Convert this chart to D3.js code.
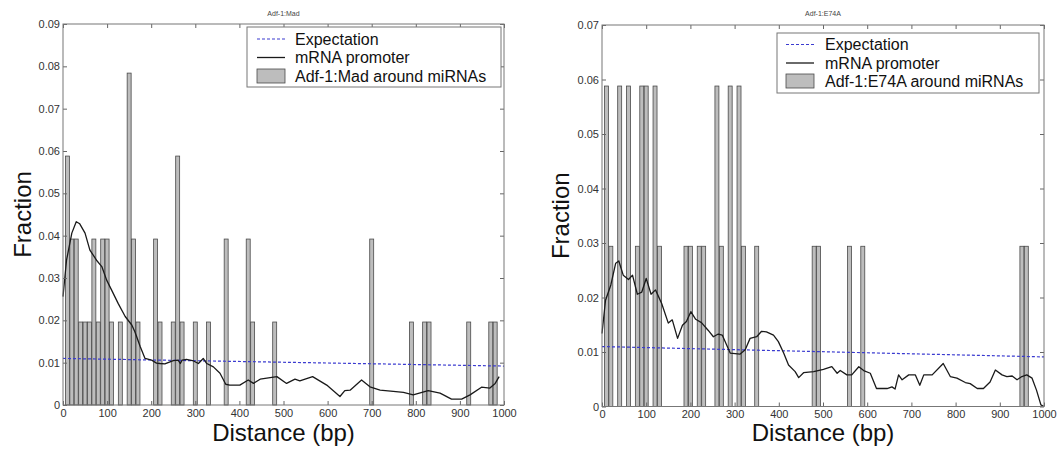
<!DOCTYPE html>
<html>
<head>
<meta charset="utf-8">
<script src="https://cdn.jsdelivr.net/npm/d3@7"></script>
<style>
  body { margin: 0; background: #fff; }
  svg { display: block; font-family: Arial, "Liberation Sans", sans-serif; }
  .tick text { fill: #333; font-size: 11px; }
  .tick line { stroke: #666; }
</style>
</head>
<body>
<svg width="1059" height="452"></svg>
<script>
// ---- data ----
var xTicks = [0, 100, 200, 300, 400, 500, 600, 700, 800, 900, 1000];
var madYTicks = [0, 0.01, 0.02, 0.03, 0.04, 0.05, 0.06, 0.07, 0.08, 0.09];
var e74aYTicks = [0, 0.01, 0.02, 0.03, 0.04, 0.05, 0.06, 0.07];

var seriesNames = ["Expectation", "mRNA promoter"];

// histogram of Adf-1:Mad sites around miRNAs (bin centre, fraction)
var madBins = [10, 20, 30, 40, 50, 60, 70, 80, 90, 100, 110, 130, 150, 160, 170, 210, 220,
               250, 260, 270, 300, 330, 370, 420, 430, 480, 700, 790, 820, 830, 920, 970, 980];
var madFrac = [0.0588, 0.0392, 0.0392, 0.0196, 0.0196, 0.0196, 0.0392, 0.0196, 0.0392, 0.0392,
               0.0196, 0.0196, 0.0784, 0.0392, 0.0196, 0.0392, 0.0196, 0.0196, 0.0588, 0.0196,
               0.0196, 0.0196, 0.0392, 0.0392, 0.0196, 0.0196, 0.0392, 0.0196, 0.0196, 0.0196,
               0.0196, 0.0196, 0.0196];

// histogram of Adf-1:E74A sites around miRNAs
var e74aBins = [10, 20, 40, 60, 80, 90, 100, 120, 130, 190, 200, 220, 230, 260, 270, 290,
                310, 320, 350, 480, 490, 560, 590, 950, 960];
var e74aFrac = [0.0588, 0.0294, 0.0588, 0.0588, 0.0294, 0.0588, 0.0588, 0.0588, 0.0294, 0.0294,
                0.0294, 0.0294, 0.0294, 0.0588, 0.0294, 0.0588, 0.0588, 0.0294, 0.0294, 0.0294,
                0.0294, 0.0294, 0.0294, 0.0294, 0.0294];

// mRNA promoter curves
var madPromBp = [0, 8, 20, 30, 38, 50, 61, 76, 88, 99, 110, 125, 141, 156, 163, 175, 186, 201,
                 212, 220, 231, 250, 261, 266, 270, 280, 296, 307, 318, 326, 341, 356, 369, 378,
                 401, 420, 432, 447, 485, 507, 526, 537, 566, 598, 628, 639, 651, 677, 696, 719,
                 749, 772, 794, 828, 855, 881, 904, 923, 949, 968, 980, 989];
var madPromFrac = [0.0256, 0.0342, 0.0406, 0.0433, 0.0428, 0.0406, 0.0366, 0.0342, 0.0327, 0.0295,
                   0.0272, 0.024, 0.0209, 0.0189, 0.0173, 0.0138, 0.011, 0.0106, 0.0099, 0.0098,
                   0.0097, 0.0105, 0.0106, 0.0098, 0.0106, 0.0108, 0.0104, 0.0098, 0.011, 0.0098,
                   0.009, 0.0075, 0.0049, 0.0047, 0.0047, 0.0059, 0.0051, 0.0061, 0.0067, 0.0051,
                   0.0061, 0.0057, 0.0067, 0.0047, 0.002, 0.0034, 0.0035, 0.0059, 0.0043, 0.0035,
                   0.0032, 0.003, 0.0024, 0.0034, 0.0028, 0.0014, 0.0014, 0.0024, 0.0042, 0.004,
                   0.0051, 0.0067];

var e74aPromBp = [0, 8, 20, 31, 38, 48, 60, 69, 80, 90, 100, 111, 121, 135, 150, 159, 171, 182,
                  191, 201, 212, 225, 240, 252, 263, 272, 282, 290, 312, 324, 335, 350, 361, 372,
                  388, 399, 411, 422, 437, 445, 456, 479, 501, 520, 532, 539, 554, 565, 581, 592,
                  607, 621, 645, 656, 663, 671, 679, 694, 709, 719, 728, 747, 772, 788, 803, 822,
                  833, 849, 863, 878, 890, 905, 916, 928, 939, 950, 961, 973, 983, 993, 1000];
var e74aPromFrac = [0.0134, 0.0195, 0.0223, 0.0263, 0.0267, 0.0241, 0.0233, 0.0241, 0.0206, 0.021,
                    0.0235, 0.0206, 0.0214, 0.0189, 0.0153, 0.0159, 0.0125, 0.0149, 0.0156, 0.0174,
                    0.016, 0.0154, 0.014, 0.0128, 0.0133, 0.0131, 0.0113, 0.0098, 0.0096, 0.0104,
                    0.0125, 0.0128, 0.0138, 0.0137, 0.0131, 0.0119, 0.0098, 0.0076, 0.0064, 0.0053,
                    0.0062, 0.0064, 0.0068, 0.0073, 0.0061, 0.0066, 0.0058, 0.0058, 0.0073, 0.0066,
                    0.0061, 0.0033, 0.0033, 0.0036, 0.0032, 0.0058, 0.0049, 0.0058, 0.0058, 0.0039,
                    0.0058, 0.0058, 0.0079, 0.0055, 0.0052, 0.0044, 0.0042, 0.0033, 0.0033, 0.0045,
                    0.0067, 0.0058, 0.0055, 0.0056, 0.0049, 0.0055, 0.0058, 0.0052, 0.003, 0.0003, 0];

// expectation (straight line)
var expectBp = [0, 1000];
var madExpect = [0.011, 0.0092];
var e74aExpect = [0.011, 0.0091];

// ---- drawing ----
var svg = d3.select("svg");
var binWidth = 9;   // bp drawn per bar

var fmtY = function(d) { return d === 0 ? "0" : d3.format(".2f")(d); };

drawPanel({
  left: 63, right: 504, top: 24, bottom: 405,
  yTicks: madYTicks, title: "Adf-1:Mad",
  bins: madBins, frac: madFrac,
  promBp: madPromBp, promFrac: madPromFrac,
  expect: madExpect,
  label: "Adf-1:Mad around miRNAs",
  legend: { x: 247, y: 27, w: 254, h: 60, sampleX: 257, textX: 295, rows: [39, 57.5, 76] },
  yLabelX: 31
});

drawPanel({
  left: 602, right: 1044, top: 25, bottom: 406.5,
  yTicks: e74aYTicks, title: "Adf-1:E74A",
  bins: e74aBins, frac: e74aFrac,
  promBp: e74aPromBp, promFrac: e74aPromFrac,
  expect: e74aExpect,
  label: "Adf-1:E74A around miRNAs",
  legend: { x: 777, y: 33, w: 262, h: 60, sampleX: 786, textX: 825, rows: [44.5, 63, 81] },
  yLabelX: 569
});

function drawPanel(p) {

  var x = d3.scaleLinear().domain([0, 1000]).range([p.left, p.right]);
  var y = d3.scaleLinear().domain([0, d3.max(p.yTicks)]).range([p.bottom, p.top]);

  var g = svg.append("g");

  // bars
  g.selectAll("rect.bar")
    .data(p.bins)
    .enter()
    .append("rect")
    .attr("class", "bar")
    .attr("x", function(d) { return x(d - binWidth / 2); })
    .attr("width", function(d) { return x(binWidth) - x(0); })
    .attr("y", function(d, i) { return y(p.frac[i]); })
    .attr("height", function(d, i) { return y(0) - y(p.frac[i]); })
    .attr("fill", "#bdbdbd")
    .attr("stroke", "#4a4a4a")
    .attr("stroke-width", 0.8);

  // expectation
  var line = d3.line()
               .x(function(d) { return x(d[0]); })
               .y(function(d) { return y(d[1]); });

  g.append("path")
    .datum(expectBp.map(function(d, i) { return [d, p.expect[i]]; }))
    .attr("d", line)
    .attr("fill", "none")
    .attr("stroke", "#3b3bd0")
    .attr("stroke-width", 1.2)
    .attr("stroke-dasharray", "3,2");

  // mRNA promoter
  g.append("path")
    .datum(p.promBp.map(function(d, i) { return [d, p.promFrac[i]]; }))
    .attr("d", line)
    .attr("fill", "none")
    .attr("stroke", "#1a1a1a")
    .attr("stroke-width", 1.3)
    .attr("stroke-linejoin", "round");

  // axes: ticks on all four sides, pointing inward
  g.append("g")
    .attr("transform", "translate(" + p.left + ",0)")
    .call(d3.axisLeft(y).tickValues(p.yTicks).tickFormat(fmtY)
            .tickSizeInner(-4).tickSizeOuter(0).tickPadding(3))
    .call(function(a) { a.select(".domain").remove(); })
    .attr("font-family", null).attr("font-size", null);

  g.append("g")
    .attr("transform", "translate(" + p.right + ",0)")
    .call(d3.axisRight(y).tickValues(p.yTicks).tickFormat("")
            .tickSizeInner(-4).tickSizeOuter(0))
    .call(function(a) { a.select(".domain").remove(); });

  g.append("g")
    .attr("transform", "translate(0," + p.bottom + ")")
    .call(d3.axisBottom(x).tickValues(xTicks).tickFormat(d3.format("d"))
            .tickSizeInner(-4).tickSizeOuter(0).tickPadding(4))
    .call(function(a) { a.select(".domain").remove(); })
    .attr("font-family", null).attr("font-size", null);

  g.append("g")
    .attr("transform", "translate(0," + p.top + ")")
    .call(d3.axisTop(x).tickValues(xTicks).tickFormat("")
            .tickSizeInner(-4).tickSizeOuter(0))
    .call(function(a) { a.select(".domain").remove(); });

  g.append("rect")
    .attr("x", p.left).attr("y", p.top)
    .attr("width", p.right - p.left).attr("height", p.bottom - p.top)
    .attr("fill", "none")
    .attr("stroke", "#777")
    .attr("stroke-width", 1);

  // title and axis labels
  g.append("text")
    .attr("x", (p.left + p.right) / 2).attr("y", 16)
    .attr("text-anchor", "middle")
    .attr("font-size", 7)
    .attr("fill", "#444")
    .text(p.title);

  g.append("text")
    .attr("x", (p.left + p.right) / 2).attr("y", 441)
    .attr("text-anchor", "middle")
    .attr("font-size", 24)
    .attr("fill", "#111")
    .text("Distance (bp)");

  g.append("text")
    .attr("transform", "translate(" + p.yLabelX + "," + ((p.top + p.bottom) / 2) + ") rotate(-90)")
    .attr("text-anchor", "middle")
    .attr("font-size", 24)
    .attr("fill", "#111")
    .text("Fraction");

  // legend
  var L = p.legend;
  var lg = g.append("g");
  lg.append("rect")
    .attr("x", L.x).attr("y", L.y).attr("width", L.w).attr("height", L.h)
    .attr("fill", "#fff").attr("stroke", "#777");

  lg.append("line")
    .attr("x1", L.sampleX).attr("x2", L.sampleX + 28)
    .attr("y1", L.rows[0]).attr("y2", L.rows[0])
    .attr("stroke", "#3b3bd0").attr("stroke-width", 1.2).attr("stroke-dasharray", "3,2");

  lg.append("line")
    .attr("x1", L.sampleX).attr("x2", L.sampleX + 28)
    .attr("y1", L.rows[1]).attr("y2", L.rows[1])
    .attr("stroke", "#1a1a1a").attr("stroke-width", 1.3);

  lg.append("rect")
    .attr("x", L.sampleX).attr("y", L.rows[2] - 7)
    .attr("width", 28).attr("height", 14)
    .attr("fill", "#bdbdbd").attr("stroke", "#4a4a4a").attr("stroke-width", 0.8);

  lg.selectAll("text")
    .data(seriesNames.concat([p.label]))
    .enter()
    .append("text")
    .attr("x", L.textX)
    .attr("y", function(d, i) { return L.rows[i] + 5.5; })
    .attr("font-size", 16)
    .attr("fill", "#111")
    .text(function(d) { return d; });
}
</script>
</body>
</html>
